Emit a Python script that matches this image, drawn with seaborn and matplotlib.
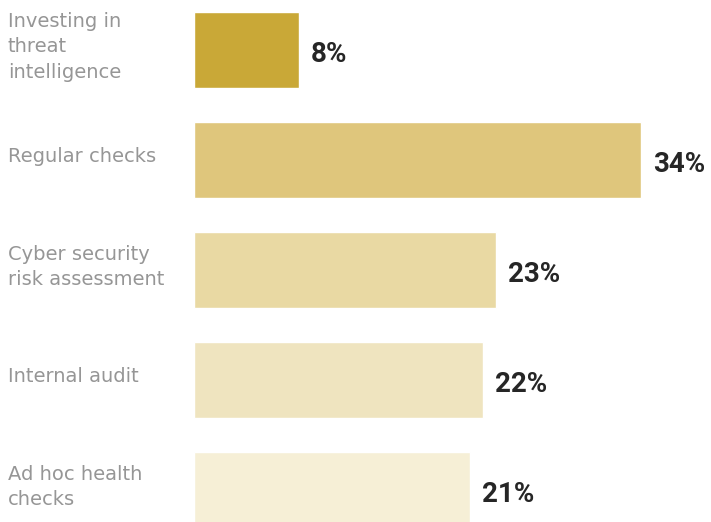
import matplotlib
matplotlib.use("Agg")
import matplotlib.pyplot as plt
import seaborn as sns
import pandas as pd

# Survey responses: measures taken, share of respondents (%)
categories = [
    "Investing in\nthreat\nintelligence",
    "Regular checks",
    "Cyber security\nrisk assessment",
    "Internal audit",
    "Ad hoc health\nchecks",
]
values = [8, 34, 23, 22, 21]
value_labels = ["8%", "34%", "23%", "22%", "21%"]
bar_colors = ["#c9a837", "#dfc67c", "#e9d9a3", "#efe4bf", "#f6efd6"]

df = pd.DataFrame({"measure": categories, "share": values})

sns.set_theme(style="white")
plt.rcParams["font.family"] = ["DejaVu Sans"]

fig = plt.figure(figsize=(7.11, 5.22), dpi=100)
ax = fig.add_axes([194 / 711, 0.0, 517 / 711, 1.0])

sns.barplot(
    data=df, x="share", y="measure", hue="measure",
    palette=bar_colors, legend=False, width=0.69,
    orient="h", ax=ax, saturation=1,
)

ax.set_xlim(0, 517 / 13.15)
ax.set_ylim(4 + 32 / 110, -50 / 110)
ax.set_xlabel("")
ax.set_ylabel("")
ax.set_xticks([])
ax.set_yticks([])
for s in ax.spines.values():
    s.set_visible(False)

# Category labels on the left, value labels at bar ends
for i, (cat, v, lab) in enumerate(zip(categories, values, value_labels)):
    ax.annotate(cat, xy=(0, i), xycoords="data", xytext=(-186, 3),
                textcoords="offset pixels", ha="left", va="center",
                fontsize=14, color="#969696", family="DejaVu Sans",
                linespacing=1.42)
    ax.annotate(lab, xy=(v, i), xycoords="data", xytext=(12, -5),
                textcoords="offset pixels", ha="left", va="center",
                fontsize=20, color="#262626", fontweight="bold",
                family="Roboto")

fig.savefig("out.png", dpi=100)
